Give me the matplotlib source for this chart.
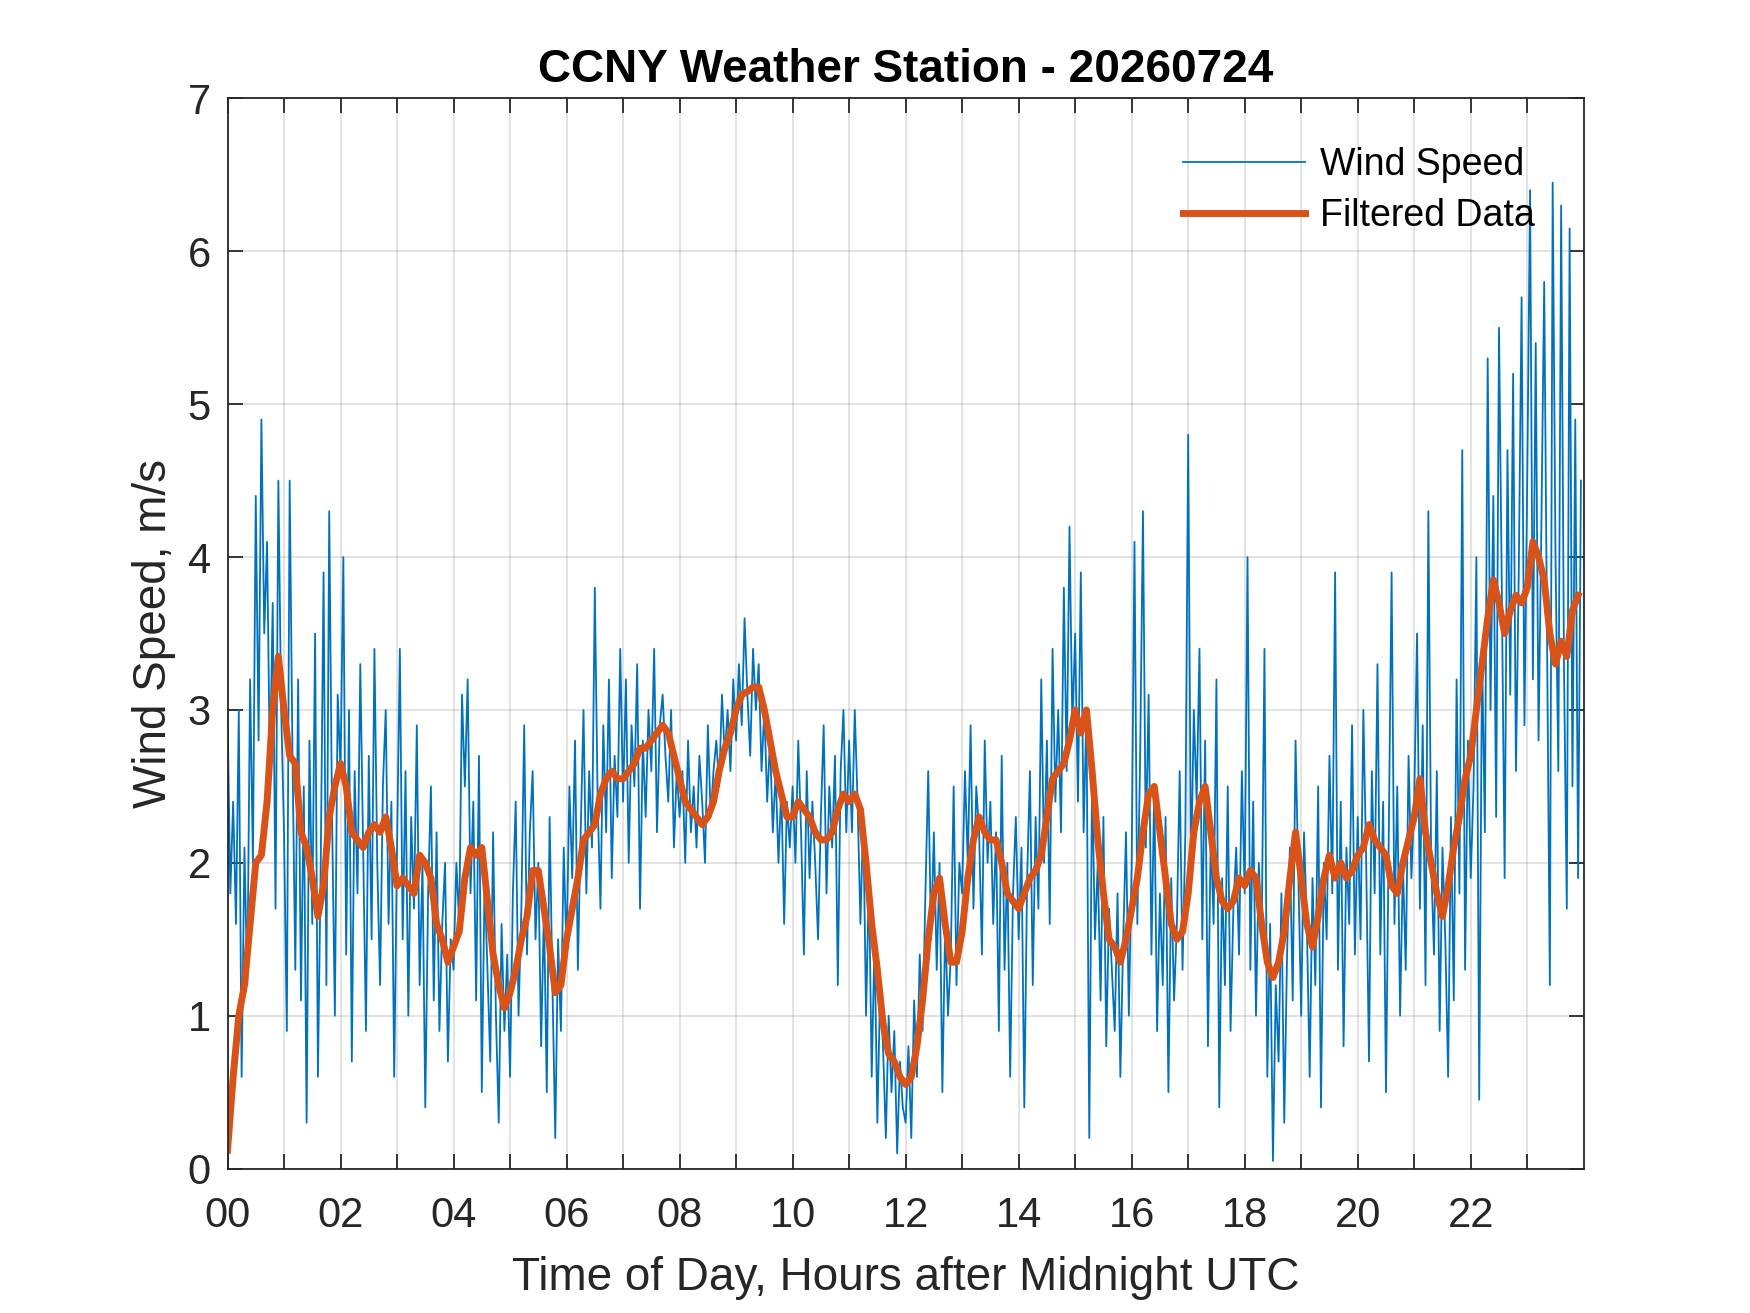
import numpy as np
import matplotlib.pyplot as plt

# wind speed samples, 20 per hour (m/s)
wind_speed = [
    3.0, 1.8, 2.4, 1.6, 3.0, 0.6, 2.1, 1.2, 3.2, 2.0, 4.4, 2.8, 4.9, 3.5, 4.1, 2.6, 3.7, 1.7, 4.5, 3.0,
    2.2, 0.9, 4.5, 2.7, 1.3, 3.2, 1.1, 2.5, 0.3, 2.8, 1.6, 3.5, 0.6, 2.0, 3.9, 1.2, 4.3, 2.3, 1.0, 3.1,
    2.6, 4.0, 1.4, 3.0, 0.7, 2.6, 1.8, 3.3, 2.1, 0.9, 2.7, 1.5, 3.4, 2.0, 1.2, 2.5, 3.0, 1.6, 2.4, 0.6,
    2.1, 3.4, 1.5, 2.6, 1.0, 2.3, 1.7, 2.9, 1.2, 2.0, 0.4, 1.8, 2.5, 1.1, 2.2, 0.9, 1.6, 2.0, 0.7, 1.5,
    1.3, 2.0, 1.6, 3.1, 2.5, 3.2, 1.8, 2.4, 1.1, 2.7, 0.5, 1.9, 1.3, 0.7, 2.2, 1.0, 0.3, 1.6, 0.9, 1.4,
    0.6, 1.8, 2.4, 1.0, 1.7, 2.9, 1.4, 2.2, 2.6, 1.5, 2.0, 0.8, 1.7, 0.5, 2.3, 1.2, 0.2, 1.5, 0.9, 2.1,
    1.4, 2.5, 1.9, 2.8, 1.3, 2.2, 3.0, 1.8, 2.6, 2.1, 3.8, 2.4, 1.7, 2.9, 2.2, 3.2, 1.9, 2.7, 2.3, 3.4,
    2.4, 3.2, 2.0, 2.9, 2.5, 3.3, 1.7, 2.8, 2.3, 3.0, 2.6, 3.4, 2.2, 2.9, 3.1, 2.7, 2.4, 3.0, 2.1, 2.6,
    2.3, 2.6, 2.0, 2.8, 2.2, 2.5, 2.1, 2.7, 2.4, 2.0, 2.9, 2.3, 2.6, 2.8, 2.5, 3.1, 2.7, 3.0, 2.6, 3.2,
    2.8, 3.3, 2.9, 3.6, 3.1, 2.7, 3.4, 3.0, 3.3, 2.6, 3.0, 2.4, 2.8, 2.2, 2.6, 2.0, 2.5, 1.6, 2.4, 2.1,
    2.5, 2.0, 2.8, 2.2, 1.4, 2.6, 1.9, 2.4, 2.0, 1.5, 2.3, 2.9, 1.8, 2.5, 2.1, 2.7, 1.2, 2.6, 3.0, 2.2,
    2.8, 2.2, 3.0, 2.4, 1.6, 2.3, 1.0, 1.9, 0.6, 1.5, 0.3, 1.2, 0.8, 0.2, 1.0, 0.5, 0.9, 0.1, 0.7, 0.4,
    0.3, 0.8, 0.2, 1.1, 0.6, 1.4, 0.9, 1.8, 2.6, 1.5, 2.2, 1.3, 2.0, 0.5, 1.6, 1.0, 1.4, 2.5, 1.2, 2.0,
    1.8, 2.6, 2.0, 2.9, 1.7, 2.5, 2.2, 1.4, 2.8, 2.0, 2.4, 1.6, 2.2, 0.9, 2.7, 1.3, 2.0, 0.6, 1.8, 2.3,
    1.5, 2.1, 0.4, 1.9, 2.6, 1.2, 2.3, 1.7, 3.2, 2.0, 2.8, 1.6, 3.4, 2.4, 3.0, 2.2, 3.8, 2.6, 4.2, 2.9,
    3.5, 2.4, 3.9, 2.2, 3.0, 0.2, 2.6, 1.5, 2.0, 1.1, 2.3, 0.8, 1.7, 1.3, 0.9, 1.8, 0.6, 1.5, 2.2, 1.0,
    2.0, 4.1, 1.6, 2.7, 4.3, 2.1, 3.1, 1.4, 2.5, 0.9, 1.8, 1.2, 2.3, 0.5, 1.9, 1.1, 1.6, 2.6, 1.3, 2.2,
    4.8, 1.9, 3.0, 2.4, 3.4, 1.5, 2.8, 0.8, 2.2, 1.6, 3.2, 0.4, 1.9, 1.2, 2.5, 0.9, 1.7, 2.1, 1.4, 2.6,
    1.8, 4.0, 1.3, 2.4, 1.0, 2.0, 1.5, 3.4, 0.6, 1.6, 0.05, 1.2, 0.7, 1.8, 0.3, 1.4, 2.1, 1.1, 2.8, 1.9,
    1.0, 2.2, 1.6, 0.6, 1.9, 1.2, 2.5, 0.4, 2.0, 1.5, 2.7, 1.8, 3.9, 1.3, 2.4, 0.8, 2.1, 1.6, 2.9, 1.4,
    2.3, 1.5, 3.0, 2.0, 0.7, 2.6, 1.8, 3.3, 1.4, 2.4, 0.5, 2.2, 3.9, 1.6, 2.5, 1.0, 2.0, 1.3, 2.7, 1.9,
    2.4, 3.5, 1.7, 2.9, 1.2, 4.3, 2.0, 1.4, 2.6, 0.9, 2.1, 1.5, 0.6, 2.3, 1.1, 3.2, 1.8, 4.7, 1.3, 2.8,
    1.9, 2.5, 4.0, 0.45, 3.4, 2.2, 5.3, 3.0, 4.4, 2.3, 5.5, 3.8, 1.9, 4.7, 3.1, 5.2, 2.6, 3.9, 5.7, 2.9,
    4.5, 6.4, 3.2, 5.4, 2.8, 4.2, 5.8, 3.5, 1.2, 6.45, 4.0, 2.6, 6.3, 3.3, 1.7, 6.15, 2.5, 4.9, 1.9, 4.5,
]

# filtered data, 10 per hour (m/s)
filtered = [
    0.12, 0.6, 1.0, 1.2, 1.6, 2.0, 2.05, 2.4, 3.0, 3.35,
    3.0, 2.7, 2.65, 2.2, 2.1, 1.9, 1.65, 1.85, 2.3, 2.5,
    2.65, 2.5, 2.2, 2.15, 2.1, 2.2, 2.25, 2.2, 2.3, 2.1,
    1.85, 1.9, 1.85, 1.8, 2.05, 2.0, 1.9, 1.6, 1.5, 1.35,
    1.45, 1.55, 1.9, 2.1, 2.05, 2.1, 1.75, 1.4, 1.2, 1.05,
    1.15, 1.3, 1.5, 1.65, 1.95, 1.95, 1.7, 1.45, 1.15, 1.2,
    1.5, 1.7, 1.9, 2.15, 2.2, 2.25, 2.45, 2.55, 2.6, 2.55,
    2.55, 2.6, 2.65, 2.75, 2.75, 2.8, 2.85, 2.9, 2.85, 2.7,
    2.55, 2.4, 2.35, 2.3, 2.25, 2.3, 2.4, 2.6, 2.75, 2.85,
    3.0, 3.1, 3.12, 3.15, 3.15, 3.0, 2.8, 2.6, 2.45, 2.3,
    2.3, 2.4, 2.35, 2.3, 2.2, 2.15, 2.15, 2.2, 2.35, 2.45,
    2.4, 2.45, 2.35, 2.0, 1.6, 1.3, 0.95, 0.75, 0.7, 0.6,
    0.55, 0.6, 0.8, 1.1, 1.5, 1.8, 1.9, 1.6, 1.35, 1.35,
    1.55, 1.9, 2.15, 2.3, 2.2, 2.15, 2.15, 2.0, 1.8, 1.75,
    1.7, 1.8, 1.9, 1.95, 2.05, 2.3, 2.55, 2.6, 2.65, 2.8,
    3.0, 2.85, 3.0, 2.6, 2.15, 1.8, 1.5, 1.45, 1.35, 1.5,
    1.7, 1.9, 2.2, 2.45, 2.5, 2.2, 1.9, 1.6, 1.5, 1.55,
    1.8, 2.2, 2.4, 2.5, 2.2, 1.9, 1.75, 1.7, 1.75, 1.9,
    1.85, 1.95, 1.9, 1.6, 1.35, 1.25, 1.35, 1.55, 1.9, 2.2,
    1.9, 1.6, 1.45, 1.65, 1.9, 2.05, 1.9, 2.0, 1.9, 1.95,
    2.05, 2.1, 2.25, 2.15, 2.1, 2.05, 1.85, 1.8, 2.0, 2.15,
    2.3, 2.55, 2.2, 2.0, 1.8, 1.65, 1.85, 2.1, 2.3, 2.55,
    2.7, 3.0, 3.3, 3.6, 3.85, 3.7, 3.5, 3.65, 3.75, 3.7,
    3.8, 4.1, 4.0, 3.85, 3.5, 3.3, 3.45, 3.35, 3.65, 3.75,
]

hour_labels = ['00', '', '02', '', '04', '', '06', '', '08', '', '10', '', '12', '',
               '14', '', '16', '', '18', '', '20', '', '22', '']

t_wind = np.arange(len(wind_speed)) / 20
t_filt = np.arange(len(filtered)) / 10

plt.rcParams['font.family'] = ['Liberation Sans', 'DejaVu Sans']
axis_color = '#262626'

fig = plt.figure(figsize=(17.5, 13.13), dpi=100)
ax = fig.add_axes([0.13, 0.11, 0.775, 0.815])

ax.plot(t_wind, wind_speed, color='#0072BD', linewidth=1.3, label='Wind Speed')
ax.plot(t_filt, filtered, color='#D95319', linewidth=5, label='Filtered Data')

ax.set_xlim(0, 24)
ax.set_ylim(0, 7)
ax.set_xticks(np.arange(0, 24))
ax.set_xticklabels(hour_labels)
ax.set_yticks(np.arange(0, 8))

ax.grid(True, color='#262626', alpha=0.15, linewidth=1.2)
ax.tick_params(direction='in', length=11, width=1.3, colors=axis_color,
               labelsize=30, top=True, right=True)
ax.tick_params(axis='x', pad=20)
ax.tick_params(axis='y', pad=12)
for s in ax.spines.values():
    s.set_color(axis_color)
    s.set_linewidth(1.3)

ax.set_title('CCNY Weather Station - 20260724', fontsize=33, fontweight='bold', pad=12)
ax.set_xlabel('Time of Day, Hours after Midnight UTC', fontsize=33, color=axis_color,
              labelpad=14)
ax.set_ylabel('Wind Speed, m/s', fontsize=33, color=axis_color, labelpad=8)

leg = ax.legend(loc='upper right', frameon=False, fontsize=27, handlelength=3.25,
                handletextpad=0.4, borderaxespad=0.9, labelspacing=0.4)

fig.savefig('out.png', dpi=100)
